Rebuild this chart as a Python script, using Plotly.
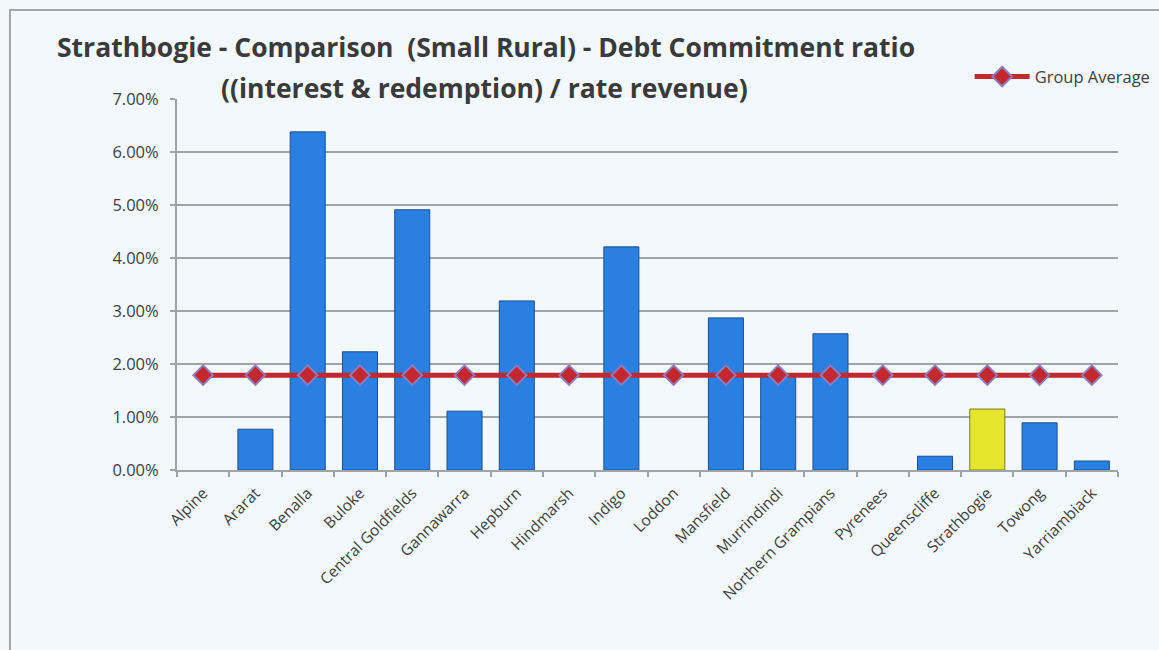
import plotly.graph_objects as go

categories = ["Alpine", "Ararat", "Benalla", "Buloke", "Central Goldfields", "Gannawarra",
              "Hepburn", "Hindmarsh", "Indigo", "Loddon", "Mansfield", "Murrindindi",
              "Northern Grampians", "Pyrenees", "Queenscliffe", "Strathbogie", "Towong",
              "Yarriambiack"]
debt_ratio = [0.0, 0.0077, 0.0638, 0.0223, 0.0491, 0.0111, 0.0319, 0.0, 0.0421, 0.0,
              0.0287, 0.0181, 0.0257, 0.0, 0.0026, 0.0115, 0.0089, 0.0017]
group_average = [0.0179] * len(categories)
highlight = "Strathbogie"
title_line1 = "Strathbogie - Comparison  (Small Rural) - Debt Commitment ratio"
title_line2 = "((interest &amp; redemption) / rate revenue)"

bar_colors = ["#E6E62E" if c == highlight else "#2A80E2" for c in categories]
bar_lines = ["#7A7A1A" if c == highlight else "#1D4F8C" for c in categories]
bar_line_w = [1 if v > 0 else 0 for v in debt_ratio]

BG = "#F2F8FB"
FONT = "'Open Sans', sans-serif"

fig = go.Figure()
fig.add_trace(go.Bar(
    x=categories, y=debt_ratio, showlegend=False,
    marker=dict(color=bar_colors, line=dict(color=bar_lines, width=bar_line_w)),
    width=0.67, hoverinfo="x+y",
))
fig.add_trace(go.Scatter(
    x=categories, y=group_average, name="Group Average", mode="lines+markers",
    line=dict(color="#C3282E", width=5),
    marker=dict(symbol="diamond", size=15, color="#C3282E",
                line=dict(color="#8F7CC0", width=2)),
))

fig.update_layout(
    width=1159, height=650,
    margin=dict(l=177, r=41, t=99, b=180, autoexpand=False),
    paper_bgcolor=BG, plot_bgcolor=BG,
    font=dict(family=FONT, size=14, color="#404040"),
    legend=dict(x=1.04, xanchor="right", y=1.06, yanchor="middle",
                orientation="h", bgcolor="rgba(0,0,0,0)",
                font=dict(size=16.5, color="#404040"), itemwidth=55),
    annotations=[
        dict(xref="paper", yref="paper", x=0.328, y=1.14, xanchor="center", yanchor="middle",
             text=title_line1, showarrow=False,
             font=dict(family=FONT, size=26.5, color="#3A3A3A", weight="bold")),
        dict(xref="paper", yref="paper", x=0.327, y=1.03, xanchor="center", yanchor="middle",
             text=title_line2, showarrow=False,
             font=dict(family=FONT, size=26.5, color="#3A3A3A", weight="bold")),
    ],
    shapes=[dict(type="rect", xref="paper", yref="paper",
                 x0=-0.1775, x1=1.06, y0=-0.51, y1=1.24,
                 line=dict(color="#A6A6A6", width=2), fillcolor="rgba(0,0,0,0)",
                 layer="below")],
)
fig.update_yaxes(
    range=[0, 0.07], dtick=0.01, tickformat=".2%",
    showgrid=True, gridcolor="#A0A4A4", gridwidth=2,
    showline=True, linecolor="#A0A4A4", linewidth=2,
    ticks="outside", ticklen=5, tickcolor="#A0A4A4", tickwidth=2,
    ticklabelstandoff=8, zeroline=False,
    tickfont=dict(size=16.5, color="#404040"),
)
fig.update_xaxes(
    range=[-0.5, len(categories) - 0.5],
    showline=True, linecolor="#A0A4A4", linewidth=2,
    ticks="outside", ticklen=5, tickcolor="#A0A4A4", tickwidth=2,
    tickson="boundaries", tickangle=-45, showgrid=False,
    ticklabelstandoff=6,
    tickfont=dict(size=15.5, color="#404040"),
)

fig.write_html("out.html")
